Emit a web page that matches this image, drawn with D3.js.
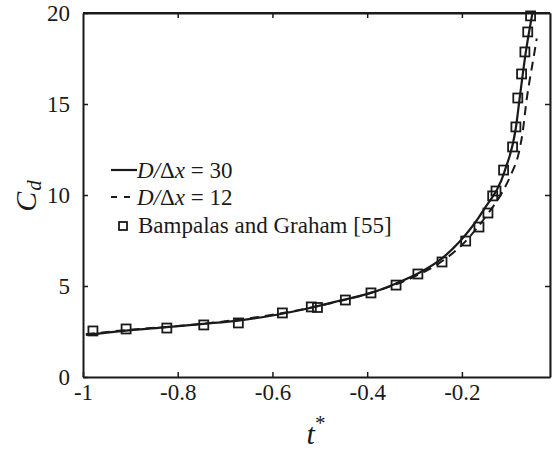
<!DOCTYPE html>
<html>
<head>
<meta charset="utf-8">
<script src="https://cdn.jsdelivr.net/npm/d3@7/dist/d3.min.js"></script>
<style>
  html, body { margin: 0; padding: 0; background: #fff; }
  svg { display: block; }
  svg text { font-family: "Liberation Serif", "DejaVu Serif", serif !important; }
</style>
</head>
<body>
<svg id="chart" width="554" height="451"></svg>
<script>
// Drag coefficient C_d against normalised time t*
const xTicks = [-1, -0.8, -0.6, -0.4, -0.2];
const yTicks = [0, 5, 10, 15, 20];

// Simulation, D/Δx = 30
const fineT  = [-0.994, -0.909, -0.823, -0.745, -0.672, -0.585, -0.516, -0.446, -0.392, -0.339, -0.291, -0.242, -0.206, -0.154, -0.109, -0.086, -0.078, -0.065, -0.051];
const fineCd = [2.31, 2.55, 2.74, 2.92, 3.10, 3.45, 3.82, 4.27, 4.62, 5.14, 5.71, 6.52, 7.40, 9.18, 11.37, 13.70, 15.33, 17.86, 20.0];

// Simulation, D/Δx = 12
const coarseT  = [-0.994, -0.9, -0.8, -0.7, -0.6, -0.5, -0.4, -0.3, -0.25, -0.2, -0.15, -0.116, -0.095, -0.080, -0.072, -0.063, -0.057, -0.049, -0.042];
const coarseCd = [2.35, 2.60, 2.80, 3.06, 3.42, 3.92, 4.57, 5.52, 6.22, 7.25, 8.80, 10.1, 11.2, 12.3, 13.4, 15.3, 16.3, 17.5, 18.6];

// Bampalas and Graham [55]
const refT  = [-0.979, -0.909, -0.823, -0.745, -0.672, -0.579, -0.518, -0.505, -0.446, -0.392, -0.339, -0.293, -0.242, -0.192, -0.164, -0.145, -0.135, -0.128, -0.112, -0.093, -0.086, -0.082, -0.074, -0.067, -0.061, -0.055];
const refCd = [2.53, 2.64, 2.69, 2.86, 2.97, 3.52, 3.85, 3.82, 4.23, 4.62, 5.05, 5.66, 6.32, 7.47, 8.24, 9.01, 9.95, 10.22, 11.37, 12.64, 13.74, 15.33, 16.65, 17.86, 18.96, 19.84];

const svg = d3.select("#chart");
const plotL = 83, plotR = 550, plotT = 13, plotB = 377;

const x = d3.scaleLinear().domain([-1, -0.014]).range([plotL, plotR]);
const y = d3.scaleLinear().domain([0, 20]).range([plotB, plotT]);

const ink = "#1a1a1a";

// Plot box
svg.append("line").attr("x1", plotL).attr("x2", plotR).attr("y1", plotT).attr("y2", plotT)
  .attr("stroke", ink).attr("stroke-width", 2);
svg.append("line").attr("x1", plotR).attr("x2", plotR).attr("y1", plotT).attr("y2", plotB)
  .attr("stroke", "#c8c8c8").attr("stroke-width", 1.5);

// Axes with inward ticks
const xAxis = svg.append("g").attr("transform", `translate(0,${plotB})`)
  .call(d3.axisBottom(x).tickValues(xTicks).tickSize(-5).tickSizeOuter(0).tickPadding(7)
    .tickFormat(d => String(d)));
const yAxis = svg.append("g").attr("transform", `translate(${plotL},0)`)
  .call(d3.axisLeft(y).tickValues(yTicks).tickSize(-5).tickSizeOuter(0).tickPadding(13)
    .tickFormat(d => String(d)));
svg.append("g").attr("transform", `translate(0,${plotT})`)
  .call(d3.axisTop(x).tickValues(xTicks.slice(1)).tickSize(-5).tickSizeOuter(0).tickFormat(""));
svg.append("g").attr("transform", `translate(${plotR},0)`)
  .call(d3.axisRight(y).tickValues(yTicks.slice(1, 4)).tickSize(-5).tickSizeOuter(0).tickFormat(""));

svg.selectAll(".domain").attr("stroke", ink).attr("stroke-width", 2);
svg.selectAll(".tick line").attr("stroke", ink).attr("stroke-width", 1.5);
svg.selectAll(".tick text").attr("fill", ink).attr("font-size", 23);
xAxis.selectAll(".tick text").attr("dy", "0.71em");
yAxis.selectAll(".tick text").attr("dy", "0.34em");

// Axis titles
const yl = svg.append("text").attr("transform", "translate(36,196) rotate(-90)")
  .attr("text-anchor", "middle").attr("fill", ink)
  .attr("font-size", 30).attr("font-style", "italic");
yl.append("tspan").text("C");
yl.append("tspan").attr("font-size", 21).attr("dy", 5).attr("dx", 1).text("d");

const xl = svg.append("text").attr("x", 316).attr("y", 444)
  .attr("text-anchor", "middle").attr("fill", ink)
  .attr("font-size", 30).attr("font-style", "italic");
xl.append("tspan").text("t");
xl.append("tspan").attr("font-style", "normal").attr("font-size", 21).attr("dy", -14).text("*");

// Curves
const line = d3.line().x(d => x(d[0])).y(d => y(d[1])).curve(d3.curveMonotoneX);
const fine = fineT.map((t, i) => [t, fineCd[i]]);
const coarse = coarseT.map((t, i) => [t, coarseCd[i]]);
const ref = refT.map((t, i) => [t, refCd[i]]);

svg.append("path").datum(coarse).attr("d", line).attr("fill", "none")
  .attr("stroke", ink).attr("stroke-width", 2).attr("stroke-dasharray", "9,6");
svg.append("path").datum(fine).attr("d", line).attr("fill", "none")
  .attr("stroke", ink).attr("stroke-width", 2.2);

const sq = 9;
svg.append("g").selectAll("rect").data(ref).join("rect")
  .attr("x", d => x(d[0]) - sq / 2).attr("y", d => y(d[1]) - sq / 2)
  .attr("width", sq).attr("height", sq)
  .attr("fill", "none").attr("stroke", ink).attr("stroke-width", 1.8);

// Legend
const lg = svg.append("g").attr("font-size", 23).attr("fill", ink);
function legendLabel(baseline, value) {
  const t = lg.append("text").attr("x", 137).attr("y", baseline).attr("fill", ink);
  t.append("tspan").attr("font-style", "italic").text("D");
  t.append("tspan").attr("font-style", "italic").text("/");
  t.append("tspan").text("Δ");
  t.append("tspan").attr("font-style", "italic").text("x");
  t.append("tspan").text(" = " + value);
}
lg.append("line").attr("x1", 111).attr("x2", 137).attr("y1", 170).attr("y2", 170)
  .attr("stroke", ink).attr("stroke-width", 2.2);
legendLabel(178, 30);
lg.append("line").attr("x1", 111).attr("x2", 137).attr("y1", 197).attr("y2", 197)
  .attr("stroke", ink).attr("stroke-width", 2.2).attr("stroke-dasharray", "6,7");
legendLabel(205, 12);
lg.append("rect").attr("x", 119).attr("y", 222).attr("width", 8).attr("height", 8)
  .attr("fill", "none").attr("stroke", ink).attr("stroke-width", 1.8);
lg.append("text").attr("x", 138).attr("y", 233).attr("fill", ink)
  .text("Bampalas and Graham [55]");
</script>
</body>
</html>
